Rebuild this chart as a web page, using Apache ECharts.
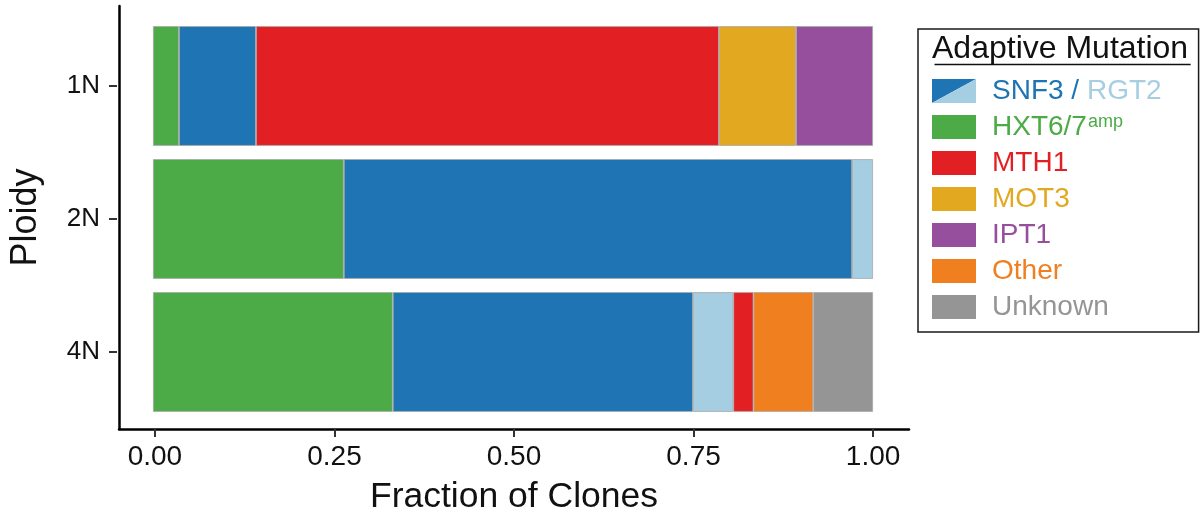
<!DOCTYPE html>
<html>
<head>
<meta charset="utf-8">
<style>
  html, body { margin: 0; padding: 0; background: #ffffff; }
  #chart { width: 1202px; height: 520px; }
</style>
<script src="https://cdn.jsdelivr.net/npm/echarts@6/dist/echarts.min.js"></script>
</head>
<body>
<div id="chart"></div>
<script>
// Fraction of clones carrying each adaptive mutation, by ploidy
const ploidy = ['1N', '2N', '4N'];
const xTicks = [0, 0.25, 0.5, 0.75, 1];

const hxt     = [0.036, 0.265, 0.333];
const snf3    = [0.107, 0.706, 0.417];
const rgt2    = [0,     0.029, 0.056];
const mth1    = [0.643, 0,     0.028];
const mot3    = [0.107, 0,     0];
const ipt1    = [0.107, 0,     0];
const other   = [0,     0,     0.083];
const unknown = [0,     0,     0.083];

const COLORS = {
  hxt: '#4DAB47',
  snf3: '#1F74B3',
  rgt2: '#A6CEE2',
  mth1: '#E21F22',
  mot3: '#E2A920',
  ipt1: '#964F9D',
  other: '#F07F1F',
  unknown: '#959595'
};

const FONT = '"Liberation Sans", Arial, Helvetica, sans-serif';
const INK = '#111111';

// stacking order, left to right
const layers = [
  { name: 'HXT6/7',  values: hxt,     color: COLORS.hxt },
  { name: 'SNF3',    values: snf3,    color: COLORS.snf3 },
  { name: 'RGT2',    values: rgt2,    color: COLORS.rgt2 },
  { name: 'MTH1',    values: mth1,    color: COLORS.mth1 },
  { name: 'MOT3',    values: mot3,    color: COLORS.mot3 },
  { name: 'IPT1',    values: ipt1,    color: COLORS.ipt1 },
  { name: 'Other',   values: other,   color: COLORS.other },
  { name: 'Unknown', values: unknown, color: COLORS.unknown }
];

// two-tone swatch for the combined SNF3 / RGT2 key
const splitSwatch = 'image://data:image/svg+xml;charset=utf-8,' + encodeURIComponent(
  '<svg xmlns="http://www.w3.org/2000/svg" width="44" height="24" viewBox="0 0 44 24">' +
  '<polygon points="0,0 44,0 0,24" fill="' + COLORS.snf3 + '"/>' +
  '<polygon points="44,0 44,24 0,24" fill="' + COLORS.rgt2 + '"/>' +
  '</svg>'
);

const legendTitle = 'Adaptive Mutation';
const legendTitleSize = 32;
const measure = document.createElement('canvas').getContext('2d');
measure.font = legendTitleSize + 'px ' + FONT;
const legendTitleWidth = measure.measureText(legendTitle).width;

function tok(color, size) {
  return { color: color, fontSize: size || 28, fontFamily: FONT, lineHeight: 30 };
}

// shared x range: 5% padding either side of [0, 1]
const X_MIN = -0.05;
const X_MAX = 1.05;

const chart = echarts.init(document.getElementById('chart'), null, { renderer: 'canvas' });

chart.setOption({
  animation: false,
  backgroundColor: '#ffffff',
  grid: [
    // bars and category axis
    { left: 117, top: 19.5, width: 792, height: 399 },
    // outer axis frame
    { left: 117, top: 6, right: 293, bottom: 88 }
  ],
  xAxis: [
    { gridIndex: 0, type: 'value', min: X_MIN, max: X_MAX, show: false },
    {
      gridIndex: 1, type: 'value', min: X_MIN, max: X_MAX,
      name: 'Fraction of Clones', nameLocation: 'middle', nameGap: 50,
      nameTextStyle: { fontSize: 35.5, fontFamily: FONT, color: INK },
      axisLine: { show: true, onZero: false, lineStyle: { color: '#000', width: 2.5 } },
      axisTick: { show: true, length: 8, customValues: xTicks, lineStyle: { color: '#333', width: 2 } },
      axisLabel: {
        show: true, customValues: xTicks, margin: 14,
        fontSize: 28, fontFamily: FONT, color: INK,
        formatter: v => Number(v).toFixed(2)
      },
      splitLine: { show: false }
    }
  ],
  yAxis: [
    {
      gridIndex: 0, type: 'category', data: ploidy, inverse: true,
      position: 'left',
      axisLine: { show: false, onZero: false },
      axisTick: { show: true, alignWithLabel: true, length: 8, lineStyle: { color: '#333', width: 2 } },
      axisLabel: { margin: 17, fontSize: 26, fontFamily: FONT, color: INK },
      splitLine: { show: false }
    },
    {
      gridIndex: 1, type: 'value', min: 0, max: 1,
      name: 'Ploidy', nameLocation: 'middle', nameGap: 75, nameRotate: 90,
      nameTextStyle: { fontSize: 36, fontFamily: FONT, color: INK },
      axisLine: { show: true, onZero: false, lineStyle: { color: '#000', width: 2.5 } },
      axisTick: { show: false },
      axisLabel: { show: false },
      splitLine: { show: false }
    }
  ],
  legend: {
    orient: 'vertical',
    left: 918, top: 29,
    padding: [47, 37, 10, 14],
    borderColor: '#1a1a1a', borderWidth: 1.5,
    itemWidth: 44, itemHeight: 24, itemGap: 6,
    selectedMode: false,
    itemStyle: { borderWidth: 0 },
    data: [
      { name: 'SNF3', icon: splitSwatch },
      { name: 'HXT6/7', icon: 'rect' },
      { name: 'MTH1', icon: 'rect' },
      { name: 'MOT3', icon: 'rect' },
      { name: 'IPT1', icon: 'rect' },
      { name: 'Other', icon: 'rect' },
      { name: 'Unknown', icon: 'rect' }
    ],
    // a fixed-width spacer widens the gap between swatch and label
    formatter: name => {
      if (name === 'SNF3') return '{gap| }{snf|SNF3 /} {rgt|RGT2}';
      if (name === 'HXT6/7') return '{gap| }{hxt|HXT6/7}{sup|amp}';
      return '{gap| }{' + name.toLowerCase() + '|' + name + '}';
    },
    textStyle: {
      fontSize: 28, fontFamily: FONT, lineHeight: 30,
      rich: {
        gap: { width: 11, fontSize: 28, fontFamily: FONT, lineHeight: 30 },
        snf: tok(COLORS.snf3),
        rgt: tok(COLORS.rgt2),
        hxt: tok(COLORS.hxt),
        sup: { color: COLORS.hxt, fontSize: 18, fontFamily: FONT, lineHeight: 20, verticalAlign: 'top', padding: [1, 0, 0, 1] },
        mth1: tok(COLORS.mth1),
        mot3: tok(COLORS.mot3),
        ipt1: tok(COLORS.ipt1),
        other: tok(COLORS.other),
        unknown: tok(COLORS.unknown)
      }
    }
  },
  graphic: [
    {
      type: 'text', left: 932, top: 33,
      style: { text: legendTitle, fontSize: legendTitleSize, fontFamily: FONT, fill: INK }
    },
    {
      type: 'line', left: 932, top: 62,
      shape: { x1: 0, y1: 0, x2: legendTitleWidth, y2: 0 },
      style: { stroke: INK, lineWidth: 1.6 }
    }
  ],
  series: layers.map(layer => ({
    name: layer.name,
    type: 'bar',
    stack: 'clones',
    xAxisIndex: 0,
    yAxisIndex: 0,
    barWidth: '90%',
    itemStyle: { color: layer.color, borderColor: '#a8a8a8', borderWidth: 0.8 },
    emphasis: { disabled: true },
    data: layer.values.map(v => (v === 0 ? '-' : v))
  }))
});
</script>
</body>
</html>
